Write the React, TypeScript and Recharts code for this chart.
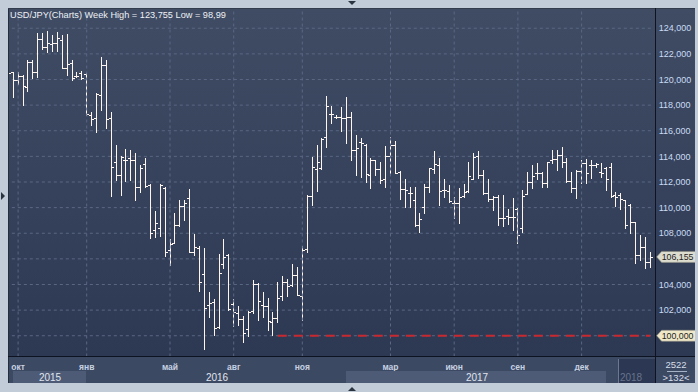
import React from 'react';
import { ComposedChart, Bar, XAxis, YAxis, CartesianGrid, ReferenceLine } from 'recharts';

// USD/JPY weekly bars
const opens = [
  120.3, 120.55, 119.95, 120.25, 119.45, 121.4, 120.6, 123.15, 122.55, 122.8,
  122.86, 123.12, 120.9, 121.3, 120.3, 120.47, 120.4, 117.2, 116.97, 118.8,
  121.1, 116.97, 113.54, 112.55, 113.72, 113.85, 113.72, 111.6, 113.4, 111.74,
  108.26, 108.39, 111.56, 106.7, 107.27, 108.63, 110.13, 110.73, 106.55, 106.81,
  104.81, 102.42, 102.6, 100.65, 105.59, 106.31, 102.49, 101.8, 101.3, 100.52,
  101.97, 104.05, 102.42, 102.29, 101.07, 101.4, 103.07, 104.23, 103.98, 104.73,
  103.1, 106.75, 110.94, 113.0, 113.07, 115.54, 117.3, 117.1, 117.1, 117.02,
  117.1, 114.5, 115.15, 114.89, 112.55, 113.72, 112.99, 112.21, 114.03, 114.89,
  112.81, 111.43, 111.12, 110.6, 108.65, 110.08, 111.59, 112.99, 113.33, 111.38,
  111.3, 110.39, 110.39, 110.91, 111.3, 112.25, 114.03, 112.55, 111.12, 110.65,
  110.86, 109.17, 109.38, 109.3, 109.87, 108.39, 111.07, 112.03, 112.68, 112.73,
  111.9, 113.72, 113.77, 114.11, 113.59, 112.11, 111.51, 112.89, 113.51, 113.33,
  113.33, 112.76, 113.1, 113.2, 110.99, 110.99, 110.6, 110.21, 108.91, 106.31,
  106.96, 105.79,
];
const highs = [
  120.7, 120.6, 120.55, 120.35, 121.5, 121.5, 123.6, 123.6, 123.76, 123.46,
  123.72, 123.46, 123.55, 121.51, 120.6, 120.68, 120.47, 117.5, 118.91, 121.72,
  121.5, 117.5, 114.89, 114.03, 114.58, 114.5, 114.24, 113.33, 113.9, 111.82,
  109.77, 111.85, 111.64, 107.53, 109.56, 110.6, 110.6, 111.43, 107.95, 107.0,
  106.88, 103.4, 102.86, 106.37, 107.56, 106.39, 102.86, 102.29, 101.53, 101.9,
  104.36, 104.1, 103.43, 102.91, 101.87, 104.2, 104.7, 104.42, 105.61, 105.4,
  107.01, 110.99, 113.93, 114.89, 115.41, 118.71, 117.93, 117.23, 117.88, 118.65,
  117.48, 115.67, 115.41, 114.94, 113.85, 113.72, 113.59, 114.81, 115.48, 115.2,
  112.89, 112.24, 111.64, 111.59, 109.56, 111.82, 113.07, 114.42, 113.85, 112.21,
  111.77, 110.86, 111.51, 111.85, 113.59, 114.24, 114.44, 112.94, 112.21, 110.91,
  110.99, 110.99, 109.87, 110.73, 109.95, 111.38, 112.76, 113.33, 113.46, 112.81,
  113.59, 114.5, 114.5, 114.7, 113.85, 112.81, 112.94, 113.72, 113.77, 113.72,
  113.46, 113.46, 113.2, 113.46, 111.25, 111.17, 110.6, 110.29, 108.91, 107.87,
  107.69, 106.57,
];
const lows = [
  119.9, 118.65, 119.65, 118.0, 119.1, 120.08, 120.2, 122.35, 122.16, 122.24,
  122.24, 120.89, 120.34, 119.95, 120.16, 120.0, 117.22, 116.45, 115.92, 117.6,
  116.2, 110.94, 112.16, 110.99, 112.11, 112.16, 110.6, 111.25, 111.6, 107.61,
  107.69, 107.79, 106.24, 105.53, 107.22, 108.57, 109.04, 106.5, 106.3, 103.53,
  98.99, 101.45, 100.05, 100.6, 105.25, 102.03, 100.73, 100.81, 99.55, 99.95,
  101.77, 101.2, 101.45, 100.42, 100.08, 101.1, 102.81, 103.12, 103.85, 103.15,
  101.2, 106.5, 110.21, 111.3, 112.99, 114.76, 116.58, 117.02, 116.0, 115.07,
  113.72, 112.55, 112.42, 112.03, 111.56, 112.55, 111.9, 111.64, 112.68, 112.68,
  110.65, 110.08, 110.08, 108.57, 108.13, 109.61, 111.25, 112.68, 110.21, 110.86,
  110.47, 109.17, 108.83, 110.86, 111.25, 112.2, 112.29, 111.07, 110.55, 109.82,
  108.65, 108.57, 108.73, 108.26, 107.27, 108.13, 111.07, 111.51, 112.21, 111.64,
  111.64, 113.46, 112.94, 113.2, 112.03, 111.25, 110.78, 111.95, 111.95, 112.29,
  113.2, 112.42, 111.38, 110.85, 110.13, 109.87, 108.39, 108.05, 105.66, 105.92,
  105.27, 105.4,
];
const closes = [
  120.5, 119.95, 120.25, 119.5, 121.4, 120.6, 123.15, 122.55, 122.81, 122.86,
  123.2, 120.91, 121.2, 120.08, 120.26, 120.08, 117.28, 116.9, 118.86, 121.13,
  116.9, 113.2, 112.55, 113.98, 113.72, 113.72, 111.6, 113.07, 111.65, 108.05,
  108.78, 111.8, 106.5, 107.17, 108.63, 110.13, 110.34, 106.55, 106.96, 104.18,
  102.16, 102.55, 100.57, 104.88, 106.11, 102.05, 101.84, 101.3, 100.2, 101.85,
  104.03, 102.68, 102.34, 101.12, 101.38, 102.94, 104.18, 103.9, 104.73, 103.2,
  106.7, 110.91, 113.2, 113.59, 115.33, 117.93, 117.28, 117.1, 116.97, 117.1,
  114.5, 114.63, 115.02, 112.6, 113.72, 112.99, 112.16, 114.03, 114.89, 112.7,
  111.43, 111.38, 111.12, 108.65, 109.12, 111.64, 113.07, 113.38, 111.3, 111.38,
  110.5, 110.34, 110.86, 111.25, 112.47, 113.98, 112.55, 111.12, 110.65, 110.81,
  109.17, 109.22, 109.3, 109.25, 107.87, 110.91, 112.03, 112.47, 112.73, 111.95,
  113.54, 113.77, 114.11, 113.59, 112.11, 111.51, 112.89, 113.51, 112.68, 113.33,
  113.38, 112.73, 112.2, 110.91, 110.86, 110.65, 108.65, 108.91, 106.31, 106.96,
  105.79, 106.155,
];

// month ticks (bar index) and their labels
const monthTicks = [2, 16, 33, 46, 60, 78, 91, 104, 117];
const monthNames = ['окт', 'янв', 'май', 'авг', 'ноя', 'мар', 'июн', 'сен', 'дек'];
const priceTicks = [100, 102, 104, 106, 108, 110, 112, 114, 116, 118, 120, 122, 124];
const years = ['2015', '2016', '2017', '2018'];
const levelPrice = 100;
const levelFrom = 55;

const FONT = '"Liberation Sans", Arial, sans-serif';
const GRID = '#5a6784';
const BAR = '#fff6ef';

const data = opens.map((open, i) => ({
  i,
  open,
  high: highs[i],
  low: lows[i],
  close: closes[i],
  range: [lows[i], highs[i]],
}));

const lastClose = closes[closes.length - 1];
const fmt = (v: number) => v.toFixed(3).replace('.', ',');

const OhlcShape = (props: any) => {
  const { x, y, width, height, payload } = props;
  if (!payload) return null;
  const top = Math.min(y, y + height);
  const bottom = Math.max(y, y + height);
  const span = payload.high - payload.low;
  const k = span > 0 ? (bottom - top) / span : 0;
  const px = Math.floor(x + width / 2);
  const cx = px + 0.5;
  const yo = Math.round(top + (payload.high - payload.open) * k) + 0.5;
  const yc = Math.round(top + (payload.high - payload.close) * k) + 0.5;
  return (
    <g stroke={BAR} strokeWidth={1} shapeRendering="crispEdges">
      <line x1={cx} x2={cx} y1={Math.round(top)} y2={Math.round(bottom) + 1} />
      <line x1={px - 2} x2={px} y1={yo} y2={yo} />
      <line x1={px + 1} x2={px + 3} y1={yc} y2={yc} />
    </g>
  );
};

const MonthTick = (props: any) => {
  const { x, payload } = props;
  const idx = monthTicks.indexOf(payload.value);
  return (
    <text x={x} y={369.5} textAnchor="middle" fill="#c6d1e2" fontSize={8.5} fontWeight="bold" fontFamily={FONT}>
      {monthNames[idx]}
    </text>
  );
};

// axis labels hidden behind a price tag are not drawn
const PriceTick = (props: any) => {
  const { x, y, payload } = props;
  const v = payload.value;
  if (Math.abs(v - levelPrice) < 0.3 || Math.abs(v - lastClose) < 0.5) return null;
  return (
    <text x={x} y={y + 3.2} textAnchor="start" fill="#c9dcf4" fontSize={9} fontFamily={FONT}>
      {`${v},000`}
    </text>
  );
};

const PriceTag = (props: any) => {
  const { viewBox, text, fill } = props;
  if (!viewBox) return null;
  const tip = viewBox.x + viewBox.width + 4;
  const y = viewBox.y;
  return (
    <g>
      <polygon
        points={`${tip},${y} ${tip + 5},${y - 5.5} 700,${y - 5.5} 700,${y + 5.5} ${tip + 5},${y + 5.5}`}
        fill={fill}
        stroke="#8d8c80"
        strokeWidth={0.6}
      />
      <text x={tip + 5} y={y + 3.2} fontSize={8.8} fill="#1e1e1e" fontFamily={FONT}>
        {text}
      </text>
    </g>
  );
};

export default function App() {
  return (
    <div style={{ position: 'relative', width: 698, height: 392, background: '#c2ccd8', overflow: 'hidden' }}>
      <style>{'body{margin:0}'}</style>
      <div style={{ position: 'absolute', left: 8, top: 8, width: 687, height: 375, overflow: 'hidden' }}>
        <div
          style={{
            position: 'absolute',
            left: 0,
            top: 0,
            width: 687,
            height: 349,
            background: 'linear-gradient(#404c64, #2d3953)',
          }}
        />
        <div style={{ position: 'absolute', left: 0, top: 349, width: 687, height: 26, background: '#3c4963' }} />
        <div style={{ position: 'absolute', left: -8, top: -8 }}>
          <ComposedChart width={698} height={392} data={data} margin={{ top: 8, right: 0, bottom: 0, left: 5.85 }}>
            <CartesianGrid vertical={false} stroke={GRID} strokeDasharray="3 3" />
            <XAxis
              dataKey="i"
              type="category"
              ticks={monthTicks}
              interval={0}
              height={35.5}
              axisLine={false}
              tickLine={false}
              tick={<MonthTick />}
            />
            <YAxis
              orientation="right"
              type="number"
              domain={[98.38, 125.58]}
              allowDataOverflow
              ticks={priceTicks}
              width={45.35}
              axisLine={false}
              tickLine={false}
              tickSize={0}
              tickMargin={6}
              tick={<PriceTick />}
            />
            {monthTicks.map((m) => (
              <ReferenceLine key={m} x={m} stroke={GRID} strokeDasharray="3 3" />
            ))}
            <ReferenceLine
              segment={[
                { x: levelFrom, y: levelPrice },
                { x: data.length - 1, y: levelPrice },
              ]}
              stroke="#c8282f"
              strokeWidth={2}
              strokeDasharray="9 7"
            />
            <Bar dataKey="range" shape={<OhlcShape />} isAnimationActive={false} />
            <ReferenceLine y={levelPrice} stroke="none" label={<PriceTag text={fmt(levelPrice)} fill="#eee8c8" />} />
            <ReferenceLine y={lastClose} stroke="none" label={<PriceTag text={fmt(lastClose)} fill="#dcdccf" />} />
          </ComposedChart>
        </div>
      </div>
      <svg
        width={698}
        height={392}
        style={{ position: 'absolute', left: 0, top: 0, pointerEvents: 'none' }}
        fontFamily={FONT}
      >
        {/* frame edges */}
        <line x1={8.5} x2={8.5} y1={8} y2={383} stroke="#262e3b" />
        <line x1={8} x2={695} y1={8.5} y2={8.5} stroke="#333c4c" />
        {/* axis separators */}
        <line x1={8} x2={695} y1={356.5} y2={356.5} stroke="#0d1320" />
        <line x1={655.5} x2={655.5} y1={8} y2={383} stroke="#0d1320" />
        {/* year bands */}
        <rect x={13} y={371} width={73} height={12} fill="#4d5b77" />
        <rect x={346} y={371} width={260} height={12} fill="#4d5b77" />
        <rect x={619} y={359} width={36} height={24} fill="#2c3853" />
        <line x1={618.5} x2={618.5} y1={359} y2={383} stroke="#6b7890" />
        <text x={50} y={380.5} textAnchor="middle" fontSize={10} fill="#e0e6ef">{years[0]}</text>
        <text x={217} y={380.5} textAnchor="middle" fontSize={10} fill="#e0e6ef">{years[1]}</text>
        <text x={477} y={380.5} textAnchor="middle" fontSize={10} fill="#e0e6ef">{years[2]}</text>
        <text x={631} y={380.5} textAnchor="middle" fontSize={10} fill="#67738b">{years[3]}</text>
        {/* bottom right counters */}
        <text x={676} y={368} textAnchor="middle" fontSize={9.5} fill="#d6deea">2522</text>
        <line x1={667} x2={687} y1={371.5} y2={371.5} stroke="#a5b1c4" />
        <text x={676} y={380.5} textAnchor="middle" fontSize={9.5} fill="#d6deea">{'>132<'}</text>
        {/* title */}
        <text x={10} y={18.3} fontSize={9.2} fill="#eef1f6">
          USD/JPY(Charts) Week High = 123,755 Low = 98,99
        </text>
        {/* scroll markers */}
        <polygon points="348,1 356,1 352,5" fill="#2a3340" />
        <polygon points="348,391 356,391 352,387" fill="#2a3340" />
        <polygon points="1,192 1,200 5,196" fill="#2a3340" />
      </svg>
    </div>
  );
}
